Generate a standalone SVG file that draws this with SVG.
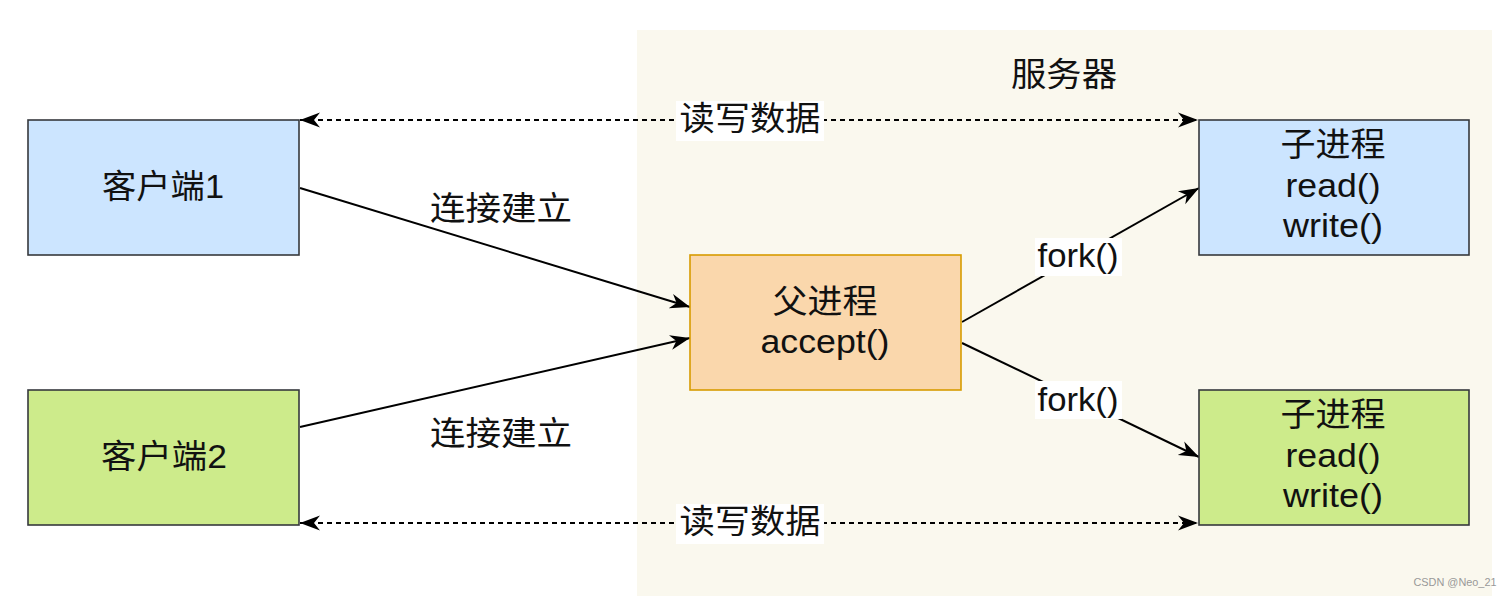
<svg xmlns="http://www.w3.org/2000/svg" width="1512" height="596" viewBox="0 0 1512 596">
  <style>
    .t { font-family: "Liberation Sans", "Noto Sans CJK SC", sans-serif; font-size: 33px; fill: #111; text-anchor: middle; }
    .box { stroke: #36393d; stroke-width: 1.6; }
    .blue { fill: #cce5ff; }
    .green { fill: #cdeb8b; }
    .orange { fill: #fad7ac; stroke: #d79b00; stroke-width: 1.6; }
    .conn { stroke: #000; stroke-width: 2; fill: none; }
    .dash { stroke-dasharray: 5 4; }
    .lblbg { fill: #ffffff; }
  </style>
  <defs>
    <marker id="arr" markerUnits="userSpaceOnUse" markerWidth="22" markerHeight="18" refX="20" refY="9" orient="auto-start-reverse" viewBox="0 0 22 18">
      <path d="M0,1.5 L20,9 L0,16.5 L6,9 Z" fill="#000" stroke="none"/>
    </marker>
  </defs>
  <rect x="0" y="0" width="1512" height="596" fill="#ffffff"/>
  <g id="server">
    <rect x="637" y="30" width="855" height="566" fill="#faf8ee"/>
    <text class="t" x="1064" y="86" textLength="106" lengthAdjust="spacingAndGlyphs">服务器</text>
  </g>
  <g id="connectors">
    <line class="conn dash" x1="300" y1="120" x2="1198" y2="120" marker-start="url(#arr)" marker-end="url(#arr)"/>
    <line class="conn dash" x1="300" y1="523" x2="1198" y2="523" marker-start="url(#arr)" marker-end="url(#arr)"/>
    <line class="conn" x1="300" y1="188" x2="690" y2="307" marker-end="url(#arr)"/>
    <line class="conn" x1="300" y1="427" x2="690" y2="338" marker-end="url(#arr)"/>
    <line class="conn" x1="962" y1="322" x2="1199" y2="188" marker-end="url(#arr)"/>
    <line class="conn" x1="962" y1="343" x2="1199" y2="457" marker-end="url(#arr)"/>
    <rect class="lblbg" x="676" y="101" width="148" height="40"/>
    <text class="t" x="750" y="130" textLength="141" lengthAdjust="spacingAndGlyphs">读写数据</text>
    <rect class="lblbg" x="676" y="504" width="148" height="40"/>
    <text class="t" x="750" y="533" textLength="141" lengthAdjust="spacingAndGlyphs">读写数据</text>
    <text class="t" x="501" y="220" textLength="142" lengthAdjust="spacingAndGlyphs">连接建立</text>
    <text class="t" x="501" y="445" textLength="142" lengthAdjust="spacingAndGlyphs">连接建立</text>
    <rect class="lblbg" x="1035" y="238" width="87" height="38"/>
    <text class="t" x="1078" y="267" textLength="81" lengthAdjust="spacingAndGlyphs">fork()</text>
    <rect class="lblbg" x="1035" y="381" width="87" height="38"/>
    <text class="t" x="1078" y="411" textLength="81" lengthAdjust="spacingAndGlyphs">fork()</text>
  </g>
  <g id="client1">
    <rect class="box blue" x="28" y="120" width="271" height="135"/>
    <text class="t" x="163" y="198" textLength="122" lengthAdjust="spacingAndGlyphs">客户端1</text>
  </g>
  <g id="client2">
    <rect class="box green" x="28" y="390" width="271" height="135"/>
    <text class="t" x="164" y="468" textLength="126" lengthAdjust="spacingAndGlyphs">客户端2</text>
  </g>
  <g id="parent">
    <rect class="orange" x="690" y="255" width="271" height="135"/>
    <text class="t" x="825" y="313" textLength="105" lengthAdjust="spacingAndGlyphs">父进程</text>
    <text class="t" x="825" y="353" textLength="129" lengthAdjust="spacingAndGlyphs">accept()</text>
  </g>
  <g id="child1">
    <rect class="box blue" x="1199" y="120" width="270" height="135"/>
    <text class="t" x="1333" y="156" textLength="105" lengthAdjust="spacingAndGlyphs">子进程</text>
    <text class="t" x="1333" y="197" textLength="95" lengthAdjust="spacingAndGlyphs">read()</text>
    <text class="t" x="1333" y="237" textLength="100" lengthAdjust="spacingAndGlyphs">write()</text>
  </g>
  <g id="child2">
    <rect class="box green" x="1199" y="390" width="270" height="135"/>
    <text class="t" x="1333" y="426" textLength="105" lengthAdjust="spacingAndGlyphs">子进程</text>
    <text class="t" x="1333" y="467" textLength="95" lengthAdjust="spacingAndGlyphs">read()</text>
    <text class="t" x="1333" y="507" textLength="100" lengthAdjust="spacingAndGlyphs">write()</text>
  </g>
  <text x="1455" y="586" style="font-family: 'Liberation Sans', sans-serif; font-size: 11px; fill: #999; text-anchor: middle;" textLength="83" lengthAdjust="spacingAndGlyphs">CSDN @Neo_21</text>
</svg>
